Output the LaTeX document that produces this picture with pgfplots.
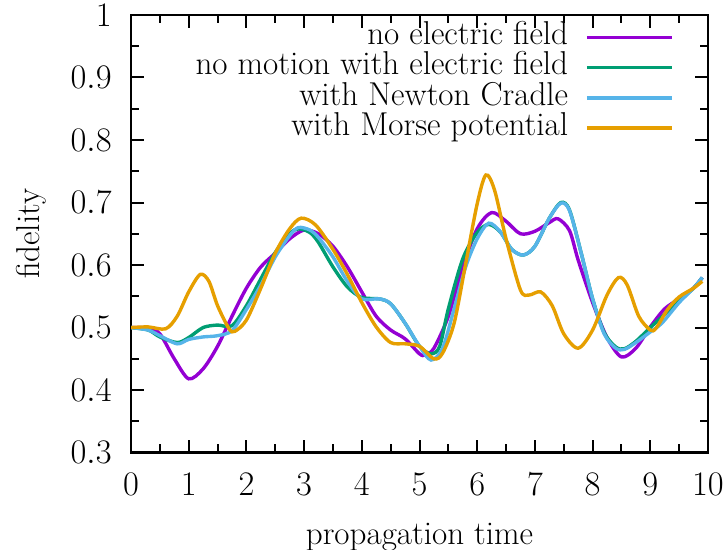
\documentclass[border=0pt]{standalone}
\usepackage{pgfplots}
\pgfplotsset{compat=1.18}
\usetikzlibrary{calc}
\definecolor{cpurple}{HTML}{9400D3}
\definecolor{cgreen}{HTML}{009E73}
\definecolor{cblue}{HTML}{56B4E9}
\definecolor{corange}{HTML}{E69F00}
\begin{document}
\fontsize{16.6}{20}\selectfont
\begin{tikzpicture}[font=\fontsize{16.6}{20}\selectfont]
\begin{axis}[name=ax,
  scale only axis, width=288.5bp, height=218.8bp,
  xmin=0, xmax=10, ymin=0.3, ymax=1,
  xtick={0,1,...,10}, ytick={0.3,0.4,...,1.0},
  minor x tick num=1, minor y tick num=1,
  tick align=inside, major tick length=6.3bp, minor tick length=4.2bp,
  every tick/.style={black, line width=1bp},
  axis line style={line width=1.3bp},
  tick label style={font=\fontsize{16.6}{20}\selectfont},
  label style={font=\fontsize{16.6}{20}\selectfont},
  xticklabel shift=4.5bp,
  yticklabel shift=4bp,
  xlabel={propagation time}, ylabel={fidelity},
  xlabel style={yshift=-3bp},
  ylabel style={yshift=1bp},
  legend plot pos=right,
  legend cell align=right,
  legend style={draw=none, fill=none, at={(0.941,0.984)}, anchor=north east,
    inner sep=0bp, row sep=0bp,
    nodes={inner sep=0bp, text height=11.2bp, text depth=3.9bp},
    font=\fontsize{16.6}{20}\selectfont},
  legend image code/.code={\draw[#1, shorten <=8.5bp] (0bp,0bp) -- (51bp,0bp);},
  every axis plot/.append style={line width=1.7bp, smooth},
]
\addplot[cpurple] coordinates {
(0,0.5)(0.3,0.499)(0.5,0.49)(0.75,0.45)(1.0,0.418)(1.25,0.434)(1.5,0.47)(1.75,0.518)(2.0,0.563)(2.25,0.597)(2.5,0.619)(2.75,0.642)(3.0,0.656)(3.25,0.65)(3.5,0.63)(3.75,0.597)(4.0,0.557)(4.25,0.518)(4.5,0.496)(4.75,0.482)(5.0,0.458)(5.1,0.456)(5.25,0.467)(5.5,0.518)(5.75,0.597)(6.0,0.658)(6.25,0.684)(6.5,0.67)(6.75,0.65)(7.0,0.654)(7.25,0.668)(7.4,0.674)(7.6,0.655)(7.75,0.608)(8.0,0.54)(8.25,0.484)(8.5,0.453)(8.75,0.467)(9.0,0.501)(9.25,0.53)(9.5,0.546)(9.75,0.563)(9.9,0.58)};
\addlegendentry{no electric field}
\addplot[cgreen] coordinates {
(0,0.5)(0.3,0.496)(0.5,0.485)(0.8,0.476)(1.0,0.484)(1.25,0.5)(1.5,0.504)(1.75,0.503)(2.0,0.535)(2.25,0.578)(2.5,0.62)(2.75,0.65)(2.9,0.658)(3.1,0.652)(3.25,0.636)(3.5,0.597)(3.75,0.565)(4.0,0.548)(4.3,0.546)(4.5,0.538)(4.75,0.507)(5.0,0.47)(5.2,0.458)(5.35,0.47)(5.5,0.53)(5.75,0.61)(6.0,0.652)(6.2,0.665)(6.4,0.653)(6.6,0.625)(6.8,0.616)(7.0,0.63)(7.25,0.675)(7.45,0.7)(7.6,0.688)(7.8,0.62)(8.0,0.546)(8.2,0.492)(8.4,0.469)(8.55,0.466)(8.75,0.478)(9.0,0.5)(9.2,0.517)(9.5,0.543)(9.75,0.563)(9.9,0.58)};
\addlegendentry{no motion with electric field}
\addplot[cblue] coordinates {
(0,0.5)(0.3,0.496)(0.5,0.487)(0.8,0.474)(1.0,0.481)(1.25,0.485)(1.5,0.487)(1.75,0.495)(2.0,0.529)(2.25,0.568)(2.5,0.613)(2.75,0.647)(2.9,0.66)(3.1,0.656)(3.25,0.644)(3.5,0.613)(3.75,0.574)(4.0,0.546)(4.3,0.546)(4.5,0.538)(4.75,0.507)(5.0,0.47)(5.2,0.448)(5.4,0.467)(5.6,0.53)(5.8,0.597)(6.0,0.642)(6.2,0.667)(6.4,0.653)(6.6,0.625)(6.8,0.616)(7.0,0.63)(7.25,0.675)(7.45,0.699)(7.6,0.687)(7.8,0.62)(8.0,0.546)(8.2,0.49)(8.4,0.467)(8.55,0.465)(8.75,0.476)(9.0,0.493)(9.2,0.507)(9.5,0.54)(9.75,0.563)(9.9,0.58)};
\addlegendentry{with Newton Cradle}
\addplot[corange] coordinates {
(0,0.5)(0.3,0.501)(0.6,0.498)(0.8,0.518)(1.0,0.557)(1.2,0.585)(1.35,0.574)(1.5,0.535)(1.7,0.498)(1.8,0.494)(2.0,0.512)(2.25,0.563)(2.5,0.619)(2.75,0.658)(2.95,0.675)(3.2,0.664)(3.5,0.625)(3.75,0.585)(4.0,0.54)(4.25,0.501)(4.5,0.476)(4.75,0.474)(5.0,0.47)(5.25,0.45)(5.4,0.459)(5.6,0.507)(5.8,0.602)(6.0,0.698)(6.15,0.744)(6.3,0.72)(6.5,0.642)(6.75,0.56)(6.9,0.552)(7.1,0.557)(7.3,0.535)(7.5,0.49)(7.75,0.467)(8.0,0.496)(8.25,0.552)(8.45,0.58)(8.6,0.568)(8.8,0.518)(9.0,0.496)(9.1,0.499)(9.3,0.529)(9.5,0.549)(9.75,0.563)(9.9,0.574)};
\addlegendentry{with Morse potential}
\end{axis}
\pgfresetboundingbox
\path ($(ax.south west)+(-65.5bp,-48.65bp)$) rectangle ($(ax.north east)+(8.5bp,7.5bp)$);
\end{tikzpicture}
\end{document}
